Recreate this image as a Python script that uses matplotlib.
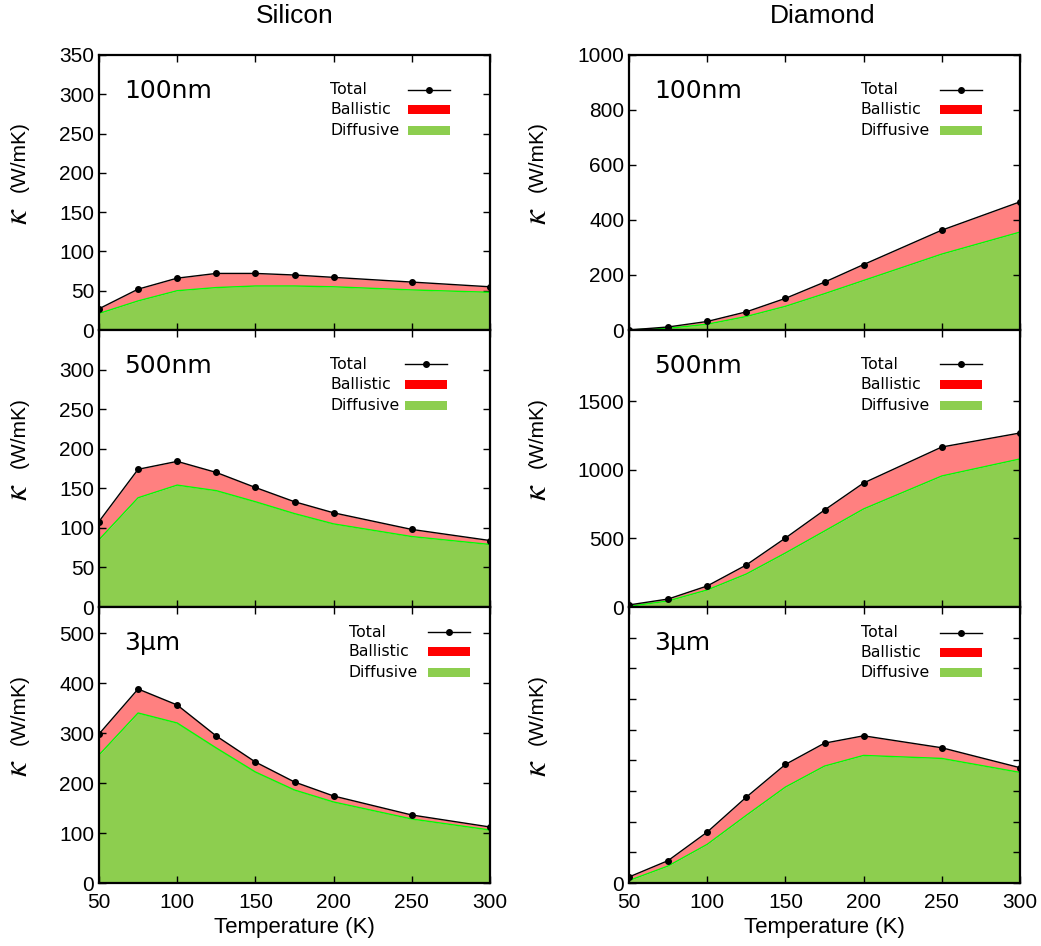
import matplotlib
matplotlib.use("Agg")
import matplotlib.pyplot as plt
from matplotlib.lines import Line2D
from matplotlib.patches import Rectangle

temps = [50, 75, 100, 125, 150, 175, 200, 250, 300]

# Silicon
si_100nm_total = [27, 52, 66, 72, 72, 70, 67, 61, 55]
si_100nm_diff = [21, 37, 50, 54, 56, 56, 55, 51, 48]
si_500nm_total = [108, 174, 184, 170, 151, 133, 119, 98, 84]
si_500nm_diff = [85, 138, 154, 147, 133, 118, 105, 89, 79]
si_3um_total = [298, 388, 356, 294, 242, 202, 174, 136, 112]
si_3um_diff = [256, 340, 320, 270, 222, 186, 162, 128, 106]

# Diamond
di_100nm_total = [0, 11, 31, 66, 115, 174, 238, 363, 466]
di_100nm_diff = [0, 6, 21, 49, 86, 132, 180, 276, 356]
di_500nm_total = [15, 58, 153, 306, 502, 706, 903, 1165, 1267]
di_500nm_diff = [5, 44, 124, 240, 393, 553, 714, 954, 1078]
di_3um_total = [98, 365, 830, 1400, 1933, 2280, 2400, 2205, 1880]
di_3um_diff = [40, 277, 630, 1103, 1564, 1906, 2080, 2031, 1803]

sizes = ["100nm", "500nm", "3µm"]
legend_labels = ["Total", "Ballistic", "Diffusive"]

GREEN = "#8dce4f"
RED_FILL = "#ff8080"

plt.rcParams["font.family"] = ["Liberation Sans", "DejaVu Sans"]
fig = plt.figure(figsize=(10.41, 9.46), dpi=100)

W, H = 1041, 946
col_x = [99, 629]
col_w = 391
row_top = [55, 330, 607]
row_h = [275, 277, 276]

panels = [
    [(si_100nm_total, si_100nm_diff, 350, list(range(0, 351, 50)), None),
     (si_500nm_total, si_500nm_diff, 350, list(range(0, 301, 50)), None),
     (si_3um_total, si_3um_diff, 552, list(range(0, 501, 100)), None)],
    [(di_100nm_total, di_100nm_diff, 1000, list(range(0, 1001, 200)), None),
     (di_500nm_total, di_500nm_diff, 2017, list(range(0, 1501, 500)), None),
     (di_3um_total, di_3um_diff, 4500, list(range(0, 4001, 500)), ["0"] + [""] * 8)],
]
titles = ["Silicon", "Diamond"]
title_x = [295, 823]

# legend layout in axes fractions: text x, handle x0, handle x1, row y's
leg_pos = [
    [(0.591, 0.79, 0.898, [0.873, 0.80, 0.724]),
     (0.591, 0.783, 0.89, [0.877, 0.805, 0.729]),
     (0.639, 0.841, 0.949, [0.909, 0.837, 0.761])],
    [(0.593, 0.795, 0.903, [0.873, 0.80, 0.724]),
     (0.593, 0.795, 0.903, [0.877, 0.805, 0.729]),
     (0.593, 0.795, 0.903, [0.906, 0.834, 0.761])],
]
label_x = [-0.205, -0.235]

for c in range(2):
    for r in range(3):
        total, diff, ymax, yt, ylabels = panels[c][r]
        left = col_x[c] / W
        bottom = 1 - (row_top[r] + row_h[r]) / H
        ax = fig.add_axes([left, bottom, col_w / W, row_h[r] / H])

        ax.fill_between(temps, 0, diff, color=GREEN, lw=0)
        ax.fill_between(temps, diff, total, color=RED_FILL, lw=0)
        ax.plot(temps, diff, color="#00ff00", lw=1)
        ax.plot(temps, total, color="black", lw=1, marker="o", ms=4)

        ax.set_xlim(50, 300)
        ax.set_ylim(0, ymax)
        ax.set_xticks(range(50, 301, 50))
        ax.set_yticks(yt)
        if ylabels is not None:
            ax.set_yticklabels(ylabels)
        ax.tick_params(direction="in", top=True, right=True, length=5,
                       width=1, labelsize=15)
        ax.tick_params(axis="x", pad=7)
        for s in ax.spines.values():
            s.set_linewidth(1.6)
        if r < 2:
            ax.tick_params(labelbottom=False)
        else:
            ax.set_xlabel("Temperature (K)", fontsize=16, labelpad=4)

        # y label: large kappa + units
        ax.text(label_x[c], 0.415, r"$\kappa$", transform=ax.transAxes,
                rotation=90, fontsize=24, ha="center", va="center",
                math_fontfamily="stix")
        ax.text(label_x[c], 0.63, "(W/mK)", transform=ax.transAxes,
                rotation=90, fontsize=15, ha="center", va="center")

        ax.text(0.065, 0.87, sizes[r], transform=ax.transAxes,
                fontsize=18, family="DejaVu Sans", va="center")

        # legend
        tx, hx0, hx1, ys = leg_pos[c][r]
        for lab, y in zip(legend_labels, ys):
            ax.text(tx, y, lab, transform=ax.transAxes, fontsize=11.3,
                    family="DejaVu Sans", va="center", ha="left")
        ax.add_line(Line2D([hx0, hx1], [ys[0], ys[0]], transform=ax.transAxes,
                           color="black", lw=1))
        ax.add_line(Line2D([(hx0 + hx1) / 2], [ys[0]], transform=ax.transAxes,
                           color="black", marker="o", ms=4, lw=0))
        rh = 9 / row_h[r]
        ax.add_patch(Rectangle((hx0, ys[1] - rh / 2), hx1 - hx0, rh,
                               transform=ax.transAxes, color="red", lw=0))
        ax.add_patch(Rectangle((hx0, ys[2] - rh / 2), hx1 - hx0, rh,
                               transform=ax.transAxes, color=GREEN, lw=0))

        if r == 0:
            fig.text(title_x[c] / W, 1 - 16 / H, titles[c], fontsize=19,
                     ha="center", va="center")

fig.savefig("out.png", dpi=100)
